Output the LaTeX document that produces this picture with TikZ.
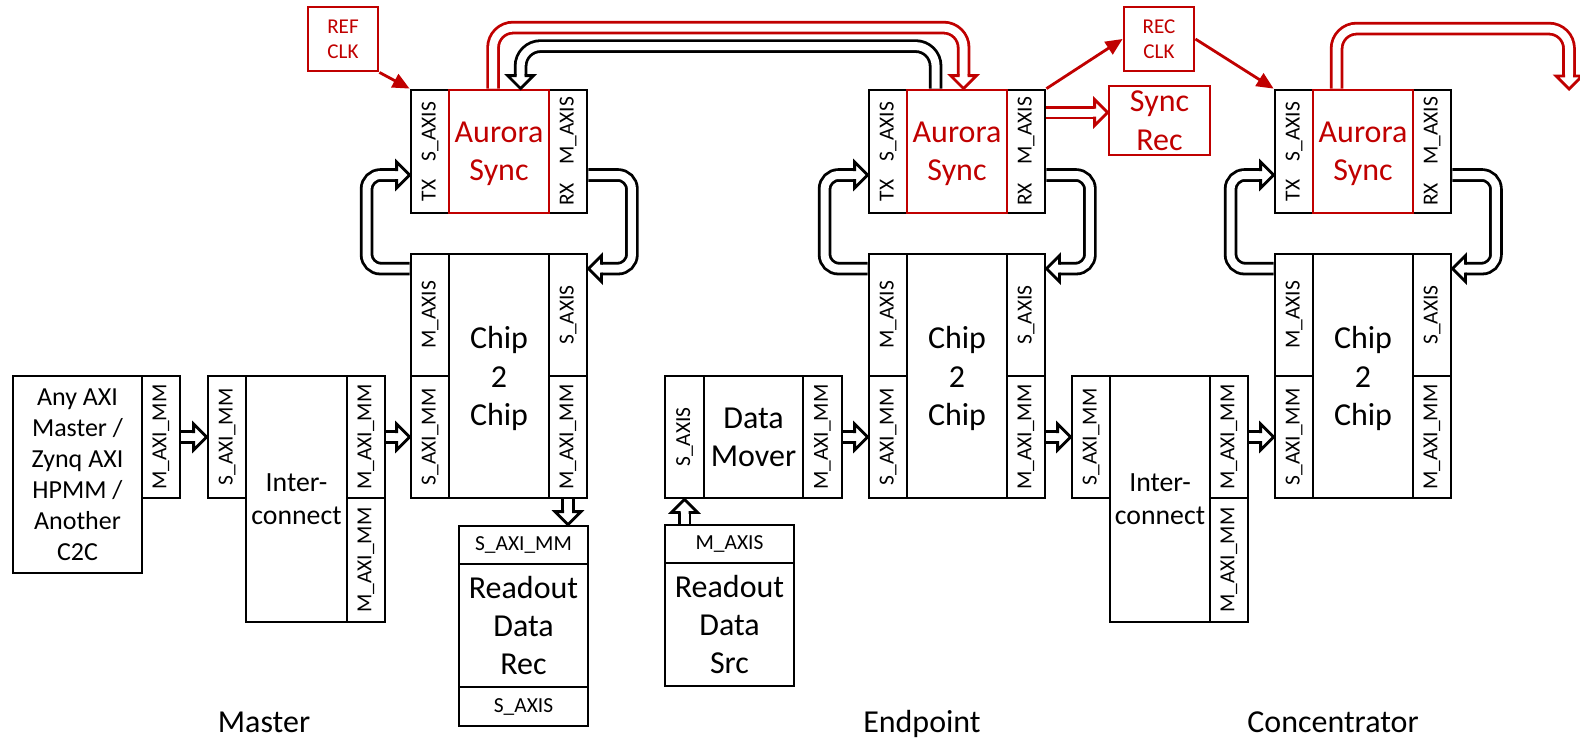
\documentclass[tikz,border=0pt]{standalone}
\usepackage{fontspec}
\setmainfont{Carlito}
\usetikzlibrary{arrows.meta, calc}
\definecolor{aured}{RGB}{192,0,0}

\newcommand{\txtbig}{\fontsize{9.1}{10.9}\selectfont}
\newcommand{\txtport}{\fontsize{6.1}{7}\selectfont}
\newcommand{\txtany}{\fontsize{7.4}{8.8}\selectfont}
\newcommand{\txtic}{\fontsize{7.9}{9.4}\selectfont}
\newcommand{\txtclk}{\fontsize{6}{7.1}\selectfont}
\newcommand{\vtext}[1]{\rotatebox{90}{#1}}

\tikzstyle{blk}  = [draw, line width=0.8pt, inner sep=0pt, align=center]
\tikzstyle{port} = [blk, minimum width=0.38cm, minimum height=1.22cm, font=\txtport]
\tikzstyle{core} = [blk, minimum width=1cm, font=\txtbig, text depth=0pt]
\tikzstyle{pipe} = [line width=0.8pt, double=white, double distance=0.08cm, shorten >=0.125cm]
\tikzstyle{clk}  = [line width=0.8pt, draw=aured, -{Triangle[length=4.8pt,width=4.2pt]}]
\tikzstyle{side} = [font=\txtbig, anchor=base]

\newcommand{\pipehead}[3][black]{%
  \filldraw[draw=#1, fill=white, line width=0.8pt, shift={#2}, rotate=#3]
    (-0.13,0.04) -- (-0.13,0.13) -- (0,0) -- (-0.13,-0.13) -- (-0.13,-0.04);}

\begin{document}
\begin{tikzpicture}
\useasboundingbox (0,0) rectangle (15.8,-7.38);

\node[blk, minimum width=1.29cm, minimum height=1.97cm, font=\txtany] (anyc) at (0.775,-4.745) {Any AXI\\Master /\\Zynq AXI\\HPMM /\\Another\\C2C};
\node[port] (anym) at (1.61,-4.37) {\vtext{M\_AXI\_MM}};

\node[port] (i1s) at (2.27,-4.37) {\vtext{S\_AXI\_MM}};
\node[core, minimum width=1.01cm, minimum height=2.46cm, font=\txtic] (i1c) at (2.965,-4.99) {Inter-\\connect};
\node[port] (i1m1) at (3.66,-4.37) {\vtext{M\_AXI\_MM}};
\node[port, minimum height=1.24cm] (i1m2) at (3.66,-5.60) {\vtext{M\_AXI\_MM}};

\node[port, minimum height=1.23cm] (a1l) at (4.30,-1.515) {\vtext{TX\hspace{0.85em}S\_AXIS}};
\node[port, minimum height=1.23cm] (a1r) at (5.68,-1.515) {\vtext{RX\hspace{0.85em}M\_AXIS}};
\node[core, draw=aured, text=aured, minimum height=1.23cm] (a1c) at (4.99,-1.515) {Aurora\\Sync};
\node[port] (c1m) at (4.30,-3.15) {\vtext{M\_AXIS}};
\node[port] (c1s) at (4.30,-4.37) {\vtext{S\_AXI\_MM}};
\node[core, minimum height=2.44cm] (c1c) at (4.99,-3.76) {Chip\\2\\Chip};
\node[port] (c1x) at (5.68,-3.15) {\vtext{S\_AXIS}};
\node[port] (c1mm) at (5.68,-4.37) {\vtext{M\_AXI\_MM}};

\node[blk, minimum width=1.29cm, minimum height=0.38cm, font=\txtport] (rrs) at (5.235,-5.45) {S\_AXI\_MM};
\node[blk, minimum width=1.29cm, minimum height=1.23cm, font=\txtbig] (rrc) at (5.235,-6.255) {Readout\\Data\\Rec};
\node[blk, minimum width=1.29cm, minimum height=0.39cm, font=\txtport] (rra) at (5.235,-7.065) {S\_AXIS};

\node[port, minimum width=0.39cm] (dms) at (6.845,-4.37) {\vtext{S\_AXIS}};
\node[core, minimum width=0.99cm, minimum height=1.22cm] (dmc) at (7.535,-4.37) {Data\\Mover};
\node[port, minimum width=0.39cm] (dmm) at (8.225,-4.37) {\vtext{M\_AXI\_MM}};

\node[blk, minimum width=1.29cm, minimum height=0.38cm, font=\txtport] (rsm) at (7.295,-5.44) {M\_AXIS};
\node[blk, minimum width=1.29cm, minimum height=1.23cm, font=\txtbig] (rsc) at (7.295,-6.245) {Readout\\Data\\Src};

\node[port, minimum height=1.23cm] (a2l) at (8.88,-1.515) {\vtext{TX\hspace{0.85em}S\_AXIS}};
\node[port, minimum height=1.23cm] (a2r) at (10.26,-1.515) {\vtext{RX\hspace{0.85em}M\_AXIS}};
\node[core, draw=aured, text=aured, minimum height=1.23cm] (a2c) at (9.57,-1.515) {Aurora\\Sync};
\node[port] (c2m) at (8.88,-3.15) {\vtext{M\_AXIS}};
\node[port] (c2s) at (8.88,-4.37) {\vtext{S\_AXI\_MM}};
\node[core, minimum height=2.44cm] (c2c) at (9.57,-3.76) {Chip\\2\\Chip};
\node[port] (c2x) at (10.26,-3.15) {\vtext{S\_AXIS}};
\node[port] (c2mm) at (10.26,-4.37) {\vtext{M\_AXI\_MM}};

\node[port] (i2s) at (10.91,-4.37) {\vtext{S\_AXI\_MM}};
\node[core, minimum height=2.46cm, font=\txtic] (i2c) at (11.60,-4.99) {Inter-\\connect};
\node[port] (i2m1) at (12.29,-4.37) {\vtext{M\_AXI\_MM}};
\node[port, minimum height=1.24cm] (i2m2) at (12.29,-5.60) {\vtext{M\_AXI\_MM}};

\node[port, minimum height=1.23cm] (a3l) at (12.94,-1.515) {\vtext{TX\hspace{0.85em}S\_AXIS}};
\node[port, minimum height=1.23cm] (a3r) at (14.32,-1.515) {\vtext{RX\hspace{0.85em}M\_AXIS}};
\node[core, draw=aured, text=aured, minimum height=1.23cm] (a3c) at (13.63,-1.515) {Aurora\\Sync};
\node[port] (c3m) at (12.94,-3.15) {\vtext{M\_AXIS}};
\node[port] (c3s) at (12.94,-4.37) {\vtext{S\_AXI\_MM}};
\node[core, minimum height=2.44cm] (c3c) at (13.63,-3.76) {Chip\\2\\Chip};
\node[port] (c3x) at (14.32,-3.15) {\vtext{S\_AXIS}};
\node[port] (c3mm) at (14.32,-4.37) {\vtext{M\_AXI\_MM}};

\node[blk, draw=aured, text=aured, minimum width=0.70cm, minimum height=0.64cm, font=\txtclk] (refclk) at (3.43,-0.39) {REF\\CLK};
\node[blk, draw=aured, text=aured, minimum width=0.70cm, minimum height=0.64cm, font=\txtclk] (recclk) at (11.59,-0.39) {REC\\CLK};
\node[blk, draw=aured, text=aured, minimum width=1.01cm, minimum height=0.69cm, font=\txtbig, text depth=0pt] (syncrec) at (11.595,-1.205) {Sync\\Rec};

\node[side] (master) at (2.64,-7.32) {Master};
\node[side] (endpoint) at (9.22,-7.32) {Endpoint};
\node[side] (concentrator) at (13.33,-7.32) {Concentrator};

\coordinate (c1lo) at ($(c1m.north west)+(0,-0.16)$);
\coordinate (a1li) at ($(a1l.west)+(0,-0.235)$);
\coordinate (a1ro) at ($(a1r.east)+(0,-0.235)$);
\coordinate (c1ri) at ($(c1x.north east)+(0,-0.16)$);
\draw[pipe, rounded corners=0.14cm] (c1lo) -- ++(-0.43,0) |- (a1li);
\pipehead{(a1li)}{0}
\draw[pipe, rounded corners=0.14cm] (a1ro) -- ++(0.435,0) |- (c1ri);
\pipehead{(c1ri)}{180}

\coordinate (c2lo) at ($(c2m.north west)+(0,-0.16)$);
\coordinate (a2li) at ($(a2l.west)+(0,-0.235)$);
\coordinate (a2ro) at ($(a2r.east)+(0,-0.235)$);
\coordinate (c2ri) at ($(c2x.north east)+(0,-0.16)$);
\draw[pipe, rounded corners=0.14cm] (c2lo) -- ++(-0.43,0) |- (a2li);
\pipehead{(a2li)}{0}
\draw[pipe, rounded corners=0.14cm] (a2ro) -- ++(0.435,0) |- (c2ri);
\pipehead{(c2ri)}{180}

\coordinate (c3lo) at ($(c3m.north west)+(0,-0.16)$);
\coordinate (a3li) at ($(a3l.west)+(0,-0.235)$);
\coordinate (a3ro) at ($(a3r.east)+(0,-0.235)$);
\coordinate (c3ri) at ($(c3x.north east)+(0,-0.16)$);
\draw[pipe, rounded corners=0.14cm] (c3lo) -- ++(-0.43,0) |- (a3li);
\pipehead{(a3li)}{0}
\draw[pipe, rounded corners=0.14cm] (a3ro) -- ++(0.435,0) |- (c3ri);
\pipehead{(c3ri)}{180}

\coordinate (a1up) at ($(a1c.north west)+(0.455,0)$);
\coordinate (a2dn) at ($(a2c.north west)+(0.58,0)$);
\coordinate (a2up) at ($(a2c.north west)+(0.30,0)$);
\coordinate (a1dn) at ($(a1c.north west)+(0.73,0)$);
\coordinate (a3up) at ($(a3c.north west)+(0.25,0)$);
\coordinate (nextmod) at (15.69,-0.89);
\draw[pipe, draw=aured, rounded corners=0.2cm] (a1up) -- ++(0,0.61) -| (a2dn);
\pipehead[aured]{(a2dn)}{-90}
\draw[pipe, rounded corners=0.2cm] (a2up) -- ++(0,0.425) -| (a1dn);
\pipehead{(a1dn)}{-90}
\draw[pipe, draw=aured, rounded corners=0.2cm] (a3up) -- ++(0,0.60) -| (nextmod);
\pipehead[aured]{(nextmod)}{-90}

\coordinate (a2sy) at ($(a2r.east)+(0,0.39)$);
\coordinate (syin) at (a2sy -| syncrec.west);
\draw[pipe, draw=aured] (a2sy) -- (syin);
\pipehead[aured]{(syin)}{0}

\draw[pipe] (anym.east) -- (i1s.west);
\pipehead{(i1s.west)}{0}
\draw[pipe] (i1m1.east) -- (c1s.west);
\pipehead{(c1s.west)}{0}
\draw[pipe] (dmm.east) -- (c2s.west);
\pipehead{(c2s.west)}{0}
\draw[pipe] (c2mm.east) -- (i2s.west);
\pipehead{(i2s.west)}{0}
\draw[pipe] (i2m1.east) -- (c3s.west);
\pipehead{(c3s.west)}{0}

\coordinate (rrin) at (c1mm.south |- rrs.north);
\coordinate (rsout) at (dms.south |- rsm.north);
\draw[pipe] (c1mm.south) -- (rrin);
\pipehead{(rrin)}{-90}
\draw[pipe] (rsout) -- (dms.south);
\pipehead{(dms.south)}{90}

\draw[clk] (refclk.south east) -- (a1l.north west);
\draw[clk] (a2r.north east) -- (recclk.west);
\draw[clk] (recclk.east) -- (a3l.north west);

\end{tikzpicture}
\end{document}
